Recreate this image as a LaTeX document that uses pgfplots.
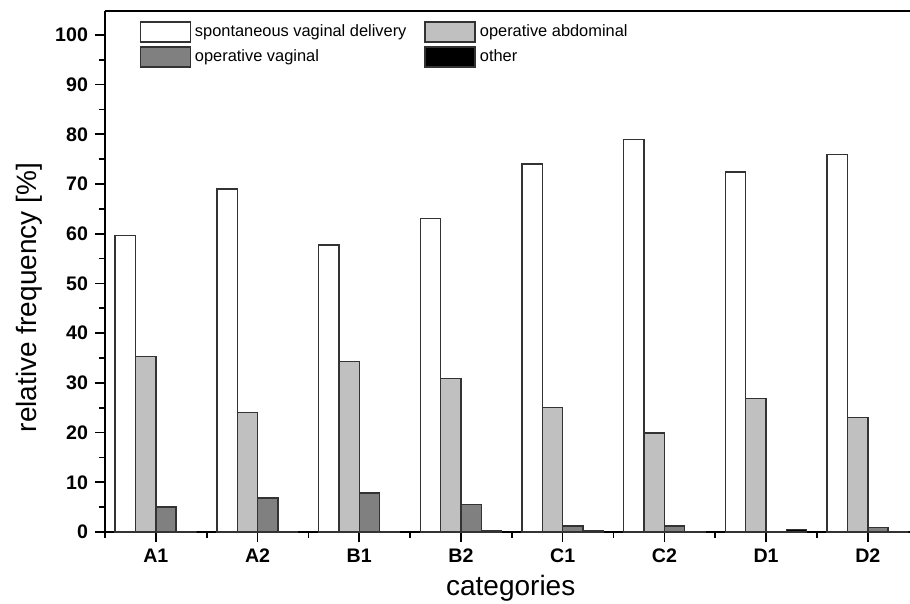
\documentclass[border=0pt]{standalone}
\usepackage{fontspec}
\setmainfont{Liberation Sans}
\usepackage{pgfplots}
\usepackage{pgfplotstable}
\pgfplotsset{compat=1.18}
\definecolor{lightbar}{HTML}{C0C0C0}
\definecolor{darkbar}{HTML}{808080}
\definecolor{edge}{HTML}{333333}
\pgfplotsset{mybar/.style={draw=edge, line width=0.7pt,
  legend image code/.code={\draw[##1] (0pt,-5pt) rectangle (25pt,5pt);}}}

\pgfplotstableread{
x spont abd vag other
0 59.6 35.3 5.0 0
1 69.0 24.0 6.85 0
2 57.7 34.3 7.85 0
3 63.0 30.9 5.5 0.2
4 74.0 25.0 1.2 0.2
5 79.0 19.9 1.2 0.1
6 72.4 26.8 0 0.5
7 75.9 23.0 0.9 0
}\datatable

\begin{document}
\begin{tikzpicture}
\begin{axis}[
  scale only axis, width=402.5pt, height=260.5pt,
  xmin=-0.5, xmax=7.415, ymin=0, ymax=104.8,
  axis x line*=bottom, axis y line*=left,
  axis line style={-, line width=1pt, black},
  clip=false,
  ybar=0pt, bar width=0.2,
  xtick={0,...,7}, xticklabels={A1,A2,B1,B2,C1,C2,D1,D2},
  minor xtick={-0.5,0.5,...,7.5},
  ytick={0,10,...,100}, minor ytick={5,15,...,95},
  tick align=outside, major tick length=5pt, minor tick length=3pt,
  tick style={line width=0.8pt, black},
  ticklabel style={font=\fontsize{9.8}{11}\selectfont\bfseries},
  /pgf/number format/assume math mode=true,
  xlabel={categories}, ylabel={relative frequency [\%]},
  label style={font=\fontsize{14}{16}\selectfont},
  xlabel style={at={(axis description cs:0.504,-0.1228)}, anchor=base},
  ylabel style={at={(axis description cs:-0.0857,0.45)}, anchor=base},
  legend columns=2,
  legend cell align=left,
  legend style={at={(axis description cs:0.035,0.99)}, anchor=north west,
    draw=none, fill=none, font=\fontsize{8.2}{9}\selectfont,
    row sep=1pt,
    /tikz/every even column/.append style={column sep=7pt}},
]
\addplot[mybar, fill=white] table[x=x, y=spont] {\datatable};
\addplot[mybar, fill=lightbar] table[x=x, y=abd] {\datatable};
\addplot[mybar, fill=darkbar] table[x=x, y=vag] {\datatable};
\addplot[mybar, fill=black] table[x=x, y=other] {\datatable};
\legend{spontaneous vaginal delivery, operative abdominal, operative vaginal, other}
\draw[line width=1pt, black] (rel axis cs:0,1) -- (rel axis cs:1,1);
\coordinate (O) at (rel axis cs:0,0);
\end{axis}
\pgfresetboundingbox
\path[use as bounding box] (O) ++(-52.5pt,-36pt) rectangle ++(455pt,302pt);
\end{tikzpicture}
\end{document}
